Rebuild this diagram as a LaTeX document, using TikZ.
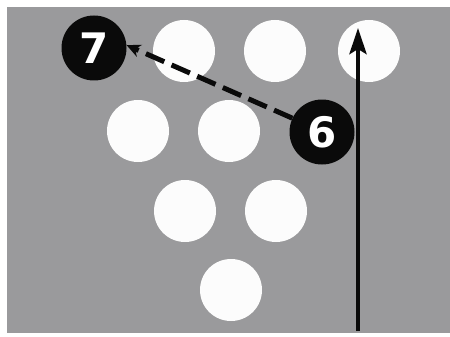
\documentclass[tikz,border=0pt]{standalone}
\usepackage{fontspec}
\setmainfont{DejaVu Sans}
\usetikzlibrary{arrows.meta}
\definecolor{LaneGray}{HTML}{9A9A9C}
\definecolor{PinWhite}{HTML}{FCFCFC}
\definecolor{BallBlack}{HTML}{0A0A0A}

\begin{document}
\begin{tikzpicture}[
                x=1pt, y=-1pt,
                pin/.style={circle, fill=PinWhite, minimum size=62pt, inner sep=0pt},
                ball/.style={circle, fill=BallBlack, minimum size=65pt, inner sep=0pt, text=white, font=\fontsize{42}{42}\selectfont\bfseries},
                move/.style={-{Stealth[length=14pt, width=13pt]}, line width=5pt, BallBlack, dash pattern=on 20pt off 8pt},
                roll/.style={-{Stealth[length=26pt, width=17pt, inset=5pt]}, line width=4.5pt, BallBlack}
            ]
                \useasboundingbox (0,0) rectangle (450,337);
                \fill[white] (0,0) rectangle (450,337);
                \fill[LaneGray] (7,7) rectangle (450,333);

                \node[pin] (p8) at (184, 51) {};
                \node[pin] (p9) at (275, 51) {};
                \node[pin] (p10) at (369, 51) {};
                \node[pin] (p4) at (138, 131) {};
                \node[pin] (p5) at (229, 131) {};
                \node[pin] (p2) at (185, 211) {};
                \node[pin] (p3) at (276, 211) {};
                \node[pin] (p1) at (231, 290) {};

                \node[ball] (p7) at (94, 48) {7};
                \node[ball] (p6) at (322, 132) {6};

                \coordinate (start) at (358, 331);
                \coordinate (tip) at (358, 28);

                \draw[move] (p6.155) -- (p7.5);
                \draw[roll] (start) -- (tip);
            \end{tikzpicture}
\end{document}
